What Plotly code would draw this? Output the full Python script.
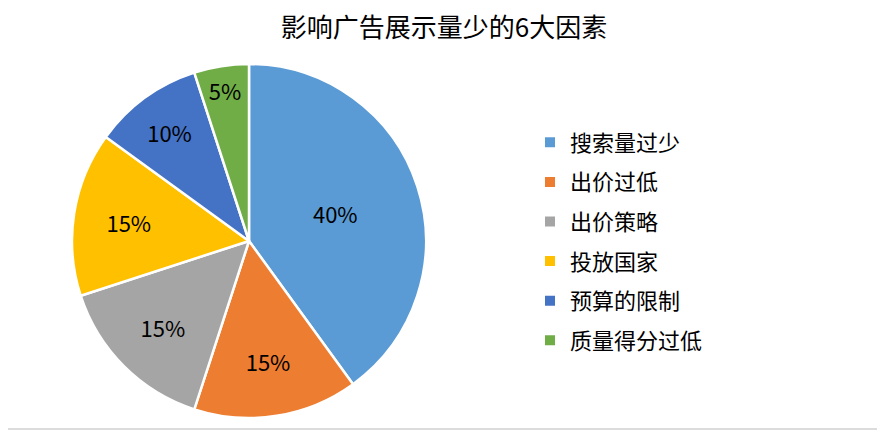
import plotly.graph_objects as go

title = '影响广告展示量少的6大因素'
labels = ['搜索量过少', '出价过低', '出价策略', '投放国家', '预算的限制', '质量得分过低']
values = [40, 15, 15, 15, 10, 5]
colors = ['#5B9BD5', '#ED7D31', '#A5A5A5', '#FFC000', '#4472C4', '#70AD47']

FONT = 'Noto Sans CJK SC'

# the page body keeps its 8px default margin, so the figure is 8px smaller
W, H = 877, 422
PH = H - 1  # plot area height (bottom margin 1)

cx, cy, r = 241, 233, 177

fig = go.Figure()

fig.add_trace(go.Pie(
    labels=labels,
    values=values,
    sort=False,
    direction='clockwise',
    rotation=0,
    texttemplate='%{percent:.0%}',
    textposition='inside',
    insidetextorientation='horizontal',
    textfont=dict(family=FONT, size=22, color='#000000'),
    marker=dict(colors=colors, line=dict(color='#ffffff', width=2.5)),
    domain=dict(x=[(cx - r) / W, (cx + r) / W],
                y=[(PH - (cy + r)) / PH, (PH - (cy - r)) / PH]),
    showlegend=False,
    hoverinfo='label+percent',
))

# legend entries as separate groups so the spacing can match
for lab, col in zip(labels, colors):
    fig.add_trace(go.Scatter(
        x=[None], y=[None],
        mode='markers',
        name=lab,
        legendgroup=lab,
        marker=dict(symbol='square', size=10, color=col),
        hoverinfo='skip',
    ))

fig.update_layout(
    width=W,
    height=H,
    margin=dict(l=0, r=0, t=0, b=1),
    paper_bgcolor='#ffffff',
    plot_bgcolor='#ffffff',
    title=dict(text=title, x=436 / W, xanchor='center', y=1 - 20 / H, yanchor='middle',
               font=dict(family=FONT, size=26, color='#000000')),
    uniformtext=dict(minsize=22, mode='show'),
    xaxis=dict(visible=False),
    yaxis=dict(visible=False),
    legend=dict(
        x=522 / W, xanchor='left',
        y=1 - 233.5 / PH, yanchor='middle',
        traceorder='grouped',
        tracegroupgap=8,
        font=dict(family=FONT, size=22, color='#000000'),
        bgcolor='rgba(0,0,0,0)',
    ),
    shapes=[dict(type='line', xref='paper', yref='paper', x0=0, x1=1, y0=0, y1=0,
                 line=dict(color='#d0d0d0', width=1.5))],
)

fig.write_html('out.html')
